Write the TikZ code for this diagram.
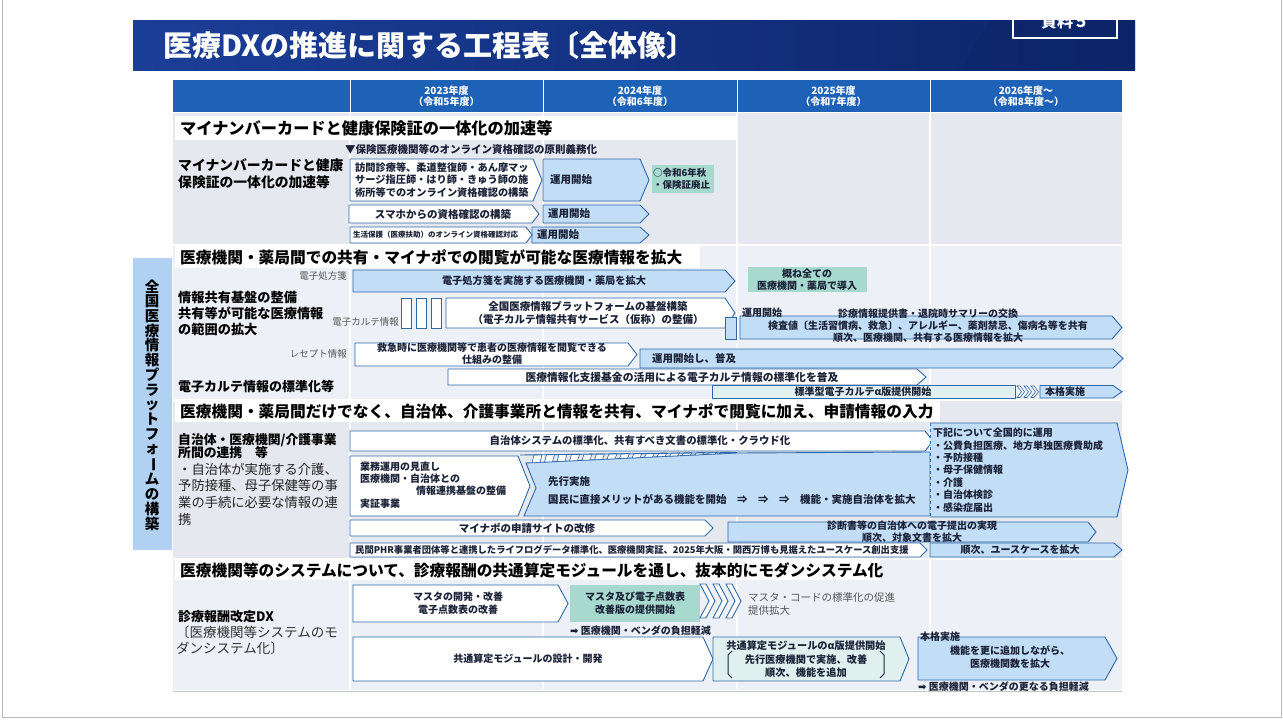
\documentclass[tikz,border=0pt]{standalone}
\usepackage{fontspec}
\setmainfont{Noto Sans CJK JP}
\newfontfamily\djv{DejaVu Sans}
\usetikzlibrary{calc}
\definecolor{navyA}{HTML}{1B3E98}
\definecolor{navyB}{HTML}{0C2569}
\definecolor{hdr}{HTML}{1E62B8}
\definecolor{bgA}{HTML}{E5E8EF}
\definecolor{bgB}{HTML}{EDF1F7}
\definecolor{lbl}{HTML}{B0D1F1}
\definecolor{lb}{HTML}{C2DDF6}
\definecolor{bd}{HTML}{2F68A8}
\definecolor{grn}{HTML}{A7D9CF}
\definecolor{pgr}{HTML}{DFF0EE}
\definecolor{ink}{HTML}{1B2238}
\definecolor{gry}{HTML}{555555}
\newcommand\fz[2]{\fontsize{#1}{#2}\selectfont}
\newcommand\pent[6]{\draw[#1] (#2,#3) -- (#4,#3) -- ({#4+#6},{(#3+#5)/2}) -- (#4,#5) -- (#2,#5) -- cycle;}
\tikzset{
 wb/.style={draw=bd, fill=white, line width=0.9pt},
 bb/.style={draw=bd, fill=lb, line width=0.9pt},
 pg/.style={draw=bd, fill=pgr, line width=0.9pt},
 tx/.style={inner sep=0pt, text=ink, align=center},
 txw/.style={inner sep=0pt, text=ink, anchor=west, align=left},
 lab/.style={inner sep=0pt, anchor=west, align=left, text=black},
 gl/.style={inner sep=0pt, anchor=east, text=gry, font=\fz{9.5}{11}},
 hd/.style={inner sep=0pt, text=white, align=center, font=\fz{10}{11}\bfseries},
 sech/.style={inner sep=0pt, anchor=west, text=black},
}
\begin{document}
\begin{tikzpicture}[x=1pt,y=-1pt]
\useasboundingbox (0,0) rectangle (1283,720);
\fill[white] (0,0) rectangle (1283,720);
\draw[gray!55, line width=0.8pt] (2,-2) -- (2,717.5) -- (1281,717.5) -- (1281,-2);
% title banner
\shade[left color=navyA, right color=navyB] (133,20) rectangle (1135,70);
\fill[navyB, opacity=0.45] (990,20) -- (1135,20) -- (1135,70) -- (960,70) -- cycle;
\node[sech, text=white, font=\fz{29}{30}\bfseries] (title) at (163,45) {医療DXの推進に関する工程表〔全体像〕};
\draw[white, line width=1.2pt] (1013,20) -- (1013,38) -- (1117,38) -- (1117,20);
\begin{scope}
\clip (1013,20) rectangle (1117,38);
\node[text=white, font=\fz{16}{16}\bfseries, inner sep=0] (shiryo) at (1065,21) {資料５};
\end{scope}
% header row
\fill[hdr] (173,80) rectangle (1122,112);
\foreach \x in {350,543,737,930} \draw[white, line width=1pt] (\x,80) -- (\x,112);
\node[hd] (c23) at (446.5,96) {2023年度\\（令和5年度）};
\node[hd] (c24) at (640,96) {2024年度\\（令和6年度）};
\node[hd] (c25) at (833.5,96) {2025年度\\（令和7年度）};
\node[hd] (c26) at (1026,96) {2026年度～\\（令和8年度～）};
% body backgrounds
\fill[bgA] (173,113) rectangle (1122,244);
\fill[bgB] (173,246) rectangle (1122,399);
\fill[bgA] (173,401) rectangle (1122,558);
\fill[bgB] (173,560) rectangle (1122,690);
\foreach \x in {350,543,737,930} \draw[white, line width=1.2pt] (\x,113) -- (\x,690);
\draw[gray!45, line width=0.8pt] (173,691) -- (1122,691);
% vertical label
\fill[lbl] (133,258) rectangle (172,550);
\node[inner sep=0pt, font=\fz{14.5}{14.7}\bfseries, align=center, text=black] (vlab) at (152,405) {全\\国\\医\\療\\情\\報\\プ\\ラ\\ッ\\ト\\フ\\ォ\\\rotatebox[origin=c]{-90}{ー}\\ム\\の\\構\\築};
% section headers
\fill[white] (175,116) rectangle (737,140);
\node[sech, font=\fz{16.2}{17}\bfseries] (h1) at (180,128) {マイナンバーカードと健康保険証の一体化の加速等};
\fill[white] (175,246) rectangle (700,268);
\node[sech, font=\fz{15.7}{17}\bfseries] (h2) at (180,257) {医療機関・薬局間での共有・マイナポでの閲覧が可能な医療情報を拡大};
\fill[white] (175,400) rectangle (940,422);
\node[sech, font=\fz{15.7}{17}\bfseries] (h3) at (180,411) {医療機関・薬局間だけでなく、自治体、介護事業所と情報を共有、マイナポで閲覧に加え、申請情報の入力};
\fill[white] (175,560) rectangle (880,580);
\node[sech, font=\fz{15.7}{17}\bfseries] (h4) at (180,570) {医療機関等のシステムについて、診療報酬の共通算定モジュールを通し、抜本的にモダンシステム化};
% ===== section 1
\node[txw, font=\fz{10.5}{12}\bfseries] (oblig) at (345,149) {▼保険医療機関等のオンライン資格確認の原則義務化};
\node[lab, font=\fz{13.8}{17}\bfseries] (l1) at (178,174) {マイナンバーカードと健康\\保険証の一体化の加速等};
\pent{wb}{350}{159}{533}{201}{9}
\node[txw, font=\fz{10.2}{12.8}\bfseries] (a1) at (355,180) {訪問診療等、柔道整復師・あん摩マッ\\サージ指圧師・はり師・きゅう師の施\\術所等でのオンライン資格確認の構築};
\pent{bb}{543}{159}{640}{201}{9}
\node[txw, font=\fz{10.5}{12}\bfseries] (b1) at (550,180) {運用開始};
\fill[grn] (652,165) rectangle (714,193);
\node[txw, font=\fz{9.5}{12.5}\bfseries] (g1) at (653,179) {○令和6年秋\\・保険証廃止};
\pent{wb}{349}{205}{532}{223}{7}
\node[tx, font=\fz{10.5}{12}\bfseries] (c1) at (443,214) {スマホからの資格確認の構築};
\pent{bb}{543}{205}{640}{223}{9}
\node[txw, font=\fz{10.5}{12}\bfseries] (d1) at (548,214) {運用開始};
\pent{bb}{532}{227}{640}{243}{9}
\node[txw, font=\fz{10.5}{12}\bfseries] (f1) at (537,235) {運用開始};
\pent{wb}{350}{227}{526}{243}{6}
\node[txw, font=\fz{7.5}{9}\bfseries] (e1) at (353,235) {生活保護（医療扶助）のオンライン資格確認対応};
% ===== section 2
\node[gl] (gEP) at (347,276) {電子処方箋};
\pent{bb}{353}{270}{725}{292}{10}
\node[tx, font=\fz{10.2}{12}\bfseries] (ep) at (544,281) {電子処方箋を実施する医療機関・薬局を拡大};
\fill[grn] (748,267) rectangle (867,292);
\node[tx, font=\fz{10}{11.5}\bfseries] (g2) at (807,279.5) {概ね全ての\\医療機関・薬局で導入};
\node[lab, font=\fz{13.2}{16}\bfseries] (l2) at (178,313) {情報共有基盤の整備\\共有等が可能な医療情報\\の範囲の拡大};
\node[gl] (gEK) at (399,322) {電子カルテ情報};
\foreach \x in {401,416,431} \draw[wb] (\x,298) rectangle ++(10,30);
\pent{wb}{446}{298}{725}{328}{10}
\node[tx, font=\fz{10.5}{13.5}\bfseries] (pf) at (588,313) {全国医療情報プラットフォームの基盤構築\\（電子カルテ情報共有サービス（仮称）の整備）};
\draw[bb] (725,317) rectangle (736,339);
\pent{bb}{740}{316}{1112}{339}{10}
\node[txw, font=\fz{10}{12}\bfseries] (unyo2) at (742,313) {運用開始};
\node[tx, font=\fz{10}{12}\bfseries] (sr) at (928,325.5) {診療情報提供書・退院時サマリーの交換\\検査値〔生活習慣病、救急〕、アレルギー、薬剤禁忌、傷病名等を共有\\順次、医療機関、共有する医療情報を拡大};
\node[gl] (gRC) at (347,354) {レセプト情報};
\pent{wb}{355}{343}{628}{366}{9}
\node[tx, font=\fz{10}{12}\bfseries] (kq) at (492,354) {救急時に医療機関等で患者の医療情報を閲覧できる\\仕組みの整備};
\pent{bb}{640}{349}{1113}{368}{10}
\node[txw, font=\fz{10.5}{12}\bfseries] (fk) at (652,358.5) {運用開始し、普及};
\pent{wb}{448}{369}{917}{385}{9}
\node[tx, font=\fz{10.8}{12}\bfseries] (kk) at (682,377) {医療情報化支援基金の活用による電子カルテ情報の標準化を普及};
\draw[pg, line width=0.7pt] (712,385.5) rectangle (1015,398);
\node[tx, font=\fz{10}{12}\bfseries] (std) at (863,391.8) {標準型電子カルテα版提供開始};
\foreach \x in {1017,1024,1031} \draw[bd, fill=white, line width=0.6pt] (\x,386) -- (\x+3,386) -- (\x+7.5,391.8) -- (\x+3,397.5) -- (\x,397.5) -- (\x+4.5,391.8) -- cycle;
\pent{bb}{1040}{385.5}{1113}{398}{9}
\node[txw, font=\fz{10}{12}\bfseries] (hk) at (1045,391.8) {本格実施};
\node[lab, font=\fz{13}{15}\bfseries] (l3) at (178,387) {電子カルテ情報の標準化等};
% ===== section 3
\node[lab, font=\fz{12.8}{13.5}\bfseries] (l4) at (178,446) {自治体・医療機関/介護事業\\所間の連携　等};
\node[lab, font=\fz{13.3}{16.7}, text=black!85] (l5) at (178,494) {・自治体が実施する介護、\\予防接種、母子保健等の事\\業の手続に必要な情報の連\\携};
\pent{wb}{350}{431}{925}{451}{8}
\node[tx, font=\fz{10.4}{12}\bfseries] (jc) at (640,441) {自治体システムの標準化、共有すべき文書の標準化・クラウド化};
\draw[bb] (526,463) -- (737,453) -- (930,452) -- (930,516) -- (524,516) -- (536,488) -- cycle;
\foreach \i in {0,...,15}{
 \pgfmathsetmacro\sXa{532+12.5*\i}
 \pgfmathsetmacro\sXb{\sXa+8}
 \pgfmathsetmacro\sTa{455-3*(\sXa+2-520)/217}
 \pgfmathsetmacro\sTb{455-3*(\sXb+2-520)/217}
 \pgfmathsetmacro\sBa{463-10*(\sXa-526)/211}
 \pgfmathsetmacro\sBb{463-10*(\sXb-526)/211}
 \draw[bd, fill=white, line width=0.6pt] (\sXa,\sBa) -- (\sXa+2,\sTa) -- (\sXb+2,\sTb) -- (\sXb,\sBb) -- cycle;
}
\draw[bd, line width=0.9pt] (520,455) -- (737,452.5);
\draw[wb] (350,456) -- (518,456) -- (530,486) -- (518,516) -- (350,516) -- cycle;
\node[txw, font=\fz{10}{12}\bfseries] (gy1) at (360,467) {業務運用の見直し};
\node[txw, font=\fz{10}{12}\bfseries] (gy2) at (360,479) {医療機関・自治体との};
\node[txw, font=\fz{10}{12}\bfseries] (gy3) at (416,491) {情報連携基盤の整備};
\node[txw, font=\fz{10}{12}\bfseries] (gy4) at (360,504) {実証事業};
\node[txw, font=\fz{10.5}{12}\bfseries] (sk) at (548,482) {先行実施};
\node[txw, font=\fz{10.5}{12}\bfseries] (km) at (548,499) {国民に直接メリットがある機能を開始　⇒　⇒　⇒　機能・実施自治体を拡大};
\fill[lb] (930,423) -- (1117,423) -- (1128,470) -- (1117,517) -- (930,517) -- cycle;
\draw[bd, line width=0.9pt] (930,423) -- (1117,423) -- (1128,470) -- (1117,517) -- (930,517);
\draw[bd, line width=0.8pt, dashed] (930,423) -- (930,517);
\node[txw, font=\fz{10}{12.4}\bfseries] (zk) at (933,470) {下記について全国的に運用\\・公費負担医療、地方単独医療費助成\\・予防接種\\・母子保健情報\\・介護\\・自治体検診\\・感染症届出};
\pent{wb}{350}{520}{705}{536}{8}
\node[tx, font=\fz{10.5}{12}\bfseries] (mp) at (527,528) {マイナポの申請サイトの改修};
\pent{bb}{728}{522}{1088}{542}{8}
\node[tx, font=\fz{10}{12}\bfseries] (sd) at (912,532) {診断書等の自治体への電子提出の実現\\順次、対象文書を拡大};
\pent{wb}{350}{543}{920}{557}{7}
\node[txw, font=\fz{9.3}{11}\bfseries] (phr) at (355,550) {民間PHR事業者団体等と連携したライフログデータ標準化、医療機関実証、2025年大阪・関西万博も見据えたユースケース創出支援};
\pent{bb}{930}{543}{1114}{557}{8}
\node[tx, font=\fz{10}{12}\bfseries] (uc) at (1020,550) {順次、ユースケースを拡大};
% ===== section 4
\node[lab, font=\fz{13}{15}\bfseries] (l6) at (178,617) {診療報酬改定DX};
\node[lab, font=\fz{13.5}{16}, text=black!80] (l7) at (176,640) {〔医療機関等システムのモ\\ダンシステム化〕};
\pent{wb}{353}{585}{558}{622}{10}
\node[tx, font=\fz{10}{13}\bfseries] (ms) at (458,603.5) {マスタの開発・改善\\電子点数表の改善};
\fill[grn] (570,585) rectangle (700,622);
\node[tx, font=\fz{10}{13}\bfseries] (mg) at (635,603.5) {マスタ及び電子点数表\\改善版の提供開始};
\foreach \x in {700,713,726} \draw[bd, fill=white, line width=0.9pt] (\x,584) -- (\x+6,584) -- (\x+15,601) -- (\x+6,618) -- (\x,618) -- (\x+9,601) -- cycle;
\node[txw, font=\fz{10.5}{13}, text=gry] (mc) at (748,603.5) {マスタ・コードの標準化の促進\\提供拡大};
\node[txw, font=\fz{10}{12}\bfseries] (fk1) at (570,631) {{\djv ➡} 医療機関・ベンダの負担軽減};
\pent{wb}{353}{637}{703}{681}{10}
\node[tx, font=\fz{10}{12}\bfseries] (kd) at (528,659) {共通算定モジュールの設計・開発};
\pent{pg}{713}{637}{900}{681}{9}
\node[tx, font=\fz{10.2}{13.5}\bfseries] (al) at (806,659.5) {共通算定モジュールのα版提供開始\\先行医療機関で実施、改善\\順次、機能を追加};
\draw[ink, line width=1pt] (732,651) -- (728,655) -- (728,674) -- (732,678);
\draw[ink, line width=1pt] (880,651) -- (884,655) -- (884,674) -- (880,678);
\pent{bb}{918}{637}{1105}{680}{12}
\node[txw, font=\fz{10}{12}\bfseries] (hk2) at (920,637) {本格実施};
\node[tx, font=\fz{10}{13.5}\bfseries] (kt) at (1010,657) {機能を更に追加しながら、\\医療機関数を拡大};
\node[txw, font=\fz{10}{12}\bfseries] (fk2) at (918,687) {{\djv ➡} 医療機関・ベンダの更なる負担軽減};
\end{tikzpicture}
\end{document}
